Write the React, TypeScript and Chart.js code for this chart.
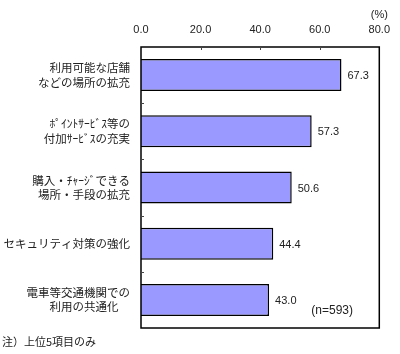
import React, { useEffect, useRef } from "react";
import { Chart, registerables } from "chart.js";

Chart.register(...registerables);

const categories: (string | string[])[] = [
  ["利用可能な店舗", "などの場所の拡充"],
  ["ﾎﾟｲﾝﾄｻｰﾋﾞｽ等の", "付加ｻｰﾋﾞｽの充実"],
  ["購入・ﾁｬｰｼﾞできる", "場所・手段の拡充"],
  "セキュリティ対策の強化",
  ["電車等交通機関での", "利用の共通化　"],
];
const values = [67.3, 57.3, 50.6, 44.4, 43.0];
const xTicks = [0, 20, 40, 60, 80];
const unitLabel = "(%)";
const sampleNote = "(n=593)";
const footnote = "注）上位5項目のみ";

const JP = "'Noto Sans CJK JP', sans-serif";
const NUM = "'Liberation Sans', Arial, sans-serif";

const decorPlugin = {
  id: "decor",
  afterDatasetsDraw(chart: any) {
    const { ctx, chartArea } = chart;
    const xs = chart.scales.x;
    const ys = chart.scales.y;
    ctx.save();
    // box
    ctx.strokeStyle = "#000";
    ctx.lineWidth = 1.5;
    ctx.strokeRect(chartArea.left, chartArea.top, chartArea.right - chartArea.left, chartArea.bottom - chartArea.top);
    // inner ticks on top axis
    ctx.lineWidth = 1;
    ctx.strokeStyle = "#444";
    xTicks.slice(1, -1).forEach((v) => {
      const px = Math.round(xs.getPixelForValue(v)) + 0.5;
      ctx.beginPath();
      ctx.moveTo(px, chartArea.top);
      ctx.lineTo(px, chartArea.top + 3);
      ctx.stroke();
    });
    // inner ticks on left axis (category boundaries)
    for (let i = 0; i < categories.length - 1; i++) {
      const py = Math.round((ys.getPixelForValue(i) + ys.getPixelForValue(i + 1)) / 2) + 0.5;
      ctx.beginPath();
      ctx.moveTo(chartArea.left, py);
      ctx.lineTo(chartArea.left + 3, py);
      ctx.stroke();
    }
    // value labels
    ctx.fillStyle = "#222";
    ctx.font = `11px ${NUM}`;
    ctx.textAlign = "left";
    ctx.textBaseline = "middle";
    const meta = chart.getDatasetMeta(0);
    meta.data.forEach((el: any, i: number) => {
      ctx.fillText(values[i].toFixed(1), el.x + 6, el.y + 1);
    });
    // unit label
    ctx.textAlign = "center";
    ctx.fillText(unitLabel, xs.getPixelForValue(80), 15);
    // sample note
    ctx.textAlign = "left";
    ctx.font = `12px ${NUM}`;
    ctx.fillText(sampleNote, chartArea.right - 68, chartArea.bottom - 17);
    // footnote
    ctx.font = `11px ${JP}`;
    ctx.fillText(footnote, 2, chartArea.bottom + 14);
    ctx.restore();
  },
};

export default function App() {
  const ref = useRef<HTMLCanvasElement>(null);
  useEffect(() => {
    if (!ref.current) return;
    const chart = new Chart(ref.current, {
      type: "bar",
      data: {
        labels: categories,
        datasets: [
          {
            data: values,
            backgroundColor: "#9999ff",
            borderColor: "#000",
            borderWidth: 1.5,
            categoryPercentage: 1,
            barPercentage: 0.57,
          },
        ],
      },
      options: {
        indexAxis: "y",
        animation: false,
        responsive: false,
        layout: { padding: { top: 0, right: 19, bottom: 26, left: 0 } },
        plugins: { legend: { display: false }, tooltip: { enabled: false } },
        scales: {
          x: {
            position: "top",
            min: 0,
            max: 80,
            afterFit: (s: any) => {
              s.height = 47;
            },
            afterBuildTicks: (s: any) => {
              s.ticks = xTicks.map((v) => ({ value: v }));
            },
            ticks: {
              padding: 10,
              color: "#222",
              font: { family: NUM, size: 11 },
              callback: (v: any) => Number(v).toFixed(1),
            },
            grid: { display: false, drawTicks: false },
            border: { display: false },
          },
          y: {
            afterFit: (s: any) => {
              s.width = 141;
            },
            ticks: {
              padding: 11,
              color: "#222",
              font: { family: JP, size: 11.5, lineHeight: 1.25 },
            },
            grid: { display: false, drawTicks: false },
            border: { display: false },
          },
        },
      },
      plugins: [decorPlugin],
    });
    return () => chart.destroy();
  }, []);
  return (
    <canvas
      ref={ref}
      width={400}
      height={354}
      style={{ position: "absolute", left: 0, top: 0, width: 400, height: 354, background: "#fff" }}
    />
  );
}
